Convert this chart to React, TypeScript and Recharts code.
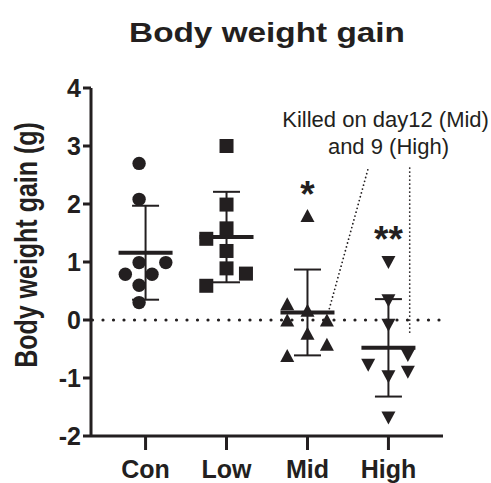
import {
  ComposedChart,
  Scatter,
  XAxis,
  YAxis,
  ErrorBar,
  ReferenceLine,
  ReferenceDot,
} from "recharts";

const INK = "#231f20";
const FONT = "'Liberation Sans', Arial, sans-serif";

const groups = ["Con", "Low", "Mid", "High"];
const yTicks = [-2, -1, 0, 1, 2, 3, 4];

// individual animals
const conGain = [2.7, 2.08, 0.99, 0.99, 0.79, 0.79, 0.6, 0.3];
const conJitter = [-0.08, -0.08, -0.08, 0.25, -0.25, 0.08, -0.08, -0.08];
const lowGain = [3.0, 1.99, 1.58, 1.4, 1.19, 0.89, 0.8, 0.59];
const lowJitter = [0, 0, 0, -0.25, 0, 0, 0.24, -0.25];
const midGain = [1.8, 0.28, 0.17, 0.0, 0.0, -0.23, -0.42, -0.61];
const midJitter = [0, -0.25, 0, -0.25, 0.24, 0, 0.24, -0.25];
const highGain = [0.99, 0.33, -0.09, -0.61, -0.78, -0.9, -0.98, -1.69];
const highJitter = [0, 0, 0, 0.24, -0.25, 0.24, 0, 0];

// mean ± SD
const means = [1.16, 1.43, 0.13, -0.48];
const sds = [0.81, 0.78, 0.74, 0.84];

// significance marks
const stars = ["", "", "*", "**"];
const starY = [0, 0, 1.95, 1.17];

// annotation
const noteLines = ["Killed on day12 (Mid)", "and 9 (High)"];
const noteX = [3.965, 4.0];
const noteY = [3.33, 2.87];
const midLink = [
  { x: 3.745, y: 2.59 },
  { x: 3.263, y: 0.16 },
];
const highLink = [
  { x: 4.263, y: 2.62 },
  { x: 4.263, y: -0.27 },
];

const toPoints = (vals: number[], jit: number[], g: number) =>
  vals.map((v, i) => ({ x: g + 1 + jit[i], y: v }));

const summary = groups.map((g, i) => ({ x: i + 1, y: means[i], sd: sds[i] }));

const Circle = ({ cx, cy }: any) => <circle cx={cx} cy={cy} r={6.7} fill={INK} />;
const Square = ({ cx, cy }: any) => (
  <rect x={cx - 7} y={cy - 7} width={14} height={14} fill={INK} />
);
const TriUp = ({ cx, cy }: any) => (
  <polygon
    points={`${cx},${cy - 6.5} ${cx - 7},${cy + 6.5} ${cx + 7},${cy + 6.5}`}
    fill={INK}
  />
);
const TriDown = ({ cx, cy }: any) => (
  <polygon
    points={`${cx - 7},${cy - 6.5} ${cx + 7},${cy - 6.5} ${cx},${cy + 6.5}`}
    fill={INK}
  />
);
const MeanBar = ({ cx, cy }: any) => (
  <line x1={cx - 27} x2={cx + 27} y1={cy} y2={cy} stroke={INK} strokeWidth={4} />
);

const App = () => {
  return (
    <div style={{ position: "absolute", left: 0, top: 0, width: 491, height: 483 }}>
      <div
        style={{
          position: "absolute",
          left: 267,
          top: 19,
          transform: "translateX(-50%) scaleX(1.19)",
          fontFamily: FONT,
          fontSize: 28,
          fontWeight: 700,
          lineHeight: "28px",
          whiteSpace: "nowrap",
          color: INK,
        }}
      >
        Body weight gain
      </div>
      <ComposedChart
        width={491}
        height={483}
        margin={{ top: 88, right: 48, bottom: 0, left: 0 }}
        style={{ fontFamily: FONT }}
      >
        <XAxis
          type="number"
          dataKey="x"
          domain={[0.326, 4.674]}
          ticks={[1, 2, 3, 4]}
          interval={0}
          allowDataOverflow
          tickFormatter={(v) => groups[v - 1]}
          height={47}
          tickSize={14}
          tickMargin={10}
          axisLine={{ stroke: INK, strokeWidth: 3 }}
          tickLine={{ stroke: INK, strokeWidth: 3 }}
          tick={{ fill: INK, fontSize: 25, fontWeight: 700 }}
        />
        <YAxis
          type="number"
          dataKey="y"
          domain={[-2, 4]}
          ticks={yTicks}
          interval={0}
          allowDataOverflow
          width={91}
          tickSize={8}
          tickMargin={2}
          axisLine={{ stroke: INK, strokeWidth: 3 }}
          tickLine={{ stroke: INK, strokeWidth: 3 }}
          tick={{ fill: INK, fontSize: 25, fontWeight: 700 }}
          label={{
            content: () => (
              <text
                transform="translate(37 245) rotate(-90) scale(1 1.28)"
                textAnchor="middle"
                fontSize={25}
                fontWeight={700}
                fill={INK}
              >
                Body weight gain (g)
              </text>
            ),
          }}
        />
        <ReferenceLine
          y={0}
          stroke={INK}
          strokeWidth={3.2}
          strokeDasharray="0 10.5"
          strokeDashoffset={9}
          strokeLinecap="round"
        />
        <ReferenceLine
          segment={midLink}
          stroke={INK}
          strokeWidth={1.8}
          strokeDasharray="0 4"
          strokeLinecap="round"
        />
        <ReferenceLine
          segment={highLink}
          stroke={INK}
          strokeWidth={1.8}
          strokeDasharray="0 4"
          strokeLinecap="round"
        />
        <Scatter data={summary} shape={<MeanBar />} isAnimationActive={false}>
          <ErrorBar dataKey="sd" direction="y" width={13.5} stroke={INK} strokeWidth={2} />
        </Scatter>
        <Scatter data={toPoints(conGain, conJitter, 0)} shape={<Circle />} isAnimationActive={false} />
        <Scatter data={toPoints(lowGain, lowJitter, 1)} shape={<Square />} isAnimationActive={false} />
        <Scatter data={toPoints(midGain, midJitter, 2)} shape={<TriUp />} isAnimationActive={false} />
        <Scatter data={toPoints(highGain, highJitter, 3)} shape={<TriDown />} isAnimationActive={false} />
        {stars.map((s, i) =>
          s ? (
            <ReferenceDot
              key={"star" + i}
              x={i + 1}
              y={starY[i]}
              r={0}
              shape={(p: any) => (
                <text x={p.cx} y={p.cy} textAnchor="middle" fontSize={37} fontWeight={700} fill={INK}>
                  {s}
                </text>
              )}
            />
          ) : null
        )}
        {noteLines.map((t, i) => (
          <ReferenceDot
            key={"note" + i}
            x={noteX[i]}
            y={noteY[i]}
            r={0}
            shape={(p: any) => (
              <text x={p.cx} y={p.cy} textAnchor="middle" fontSize={22} fill={INK}>
                {t}
              </text>
            )}
          />
        ))}
      </ComposedChart>
    </div>
  );
};

export default App;
